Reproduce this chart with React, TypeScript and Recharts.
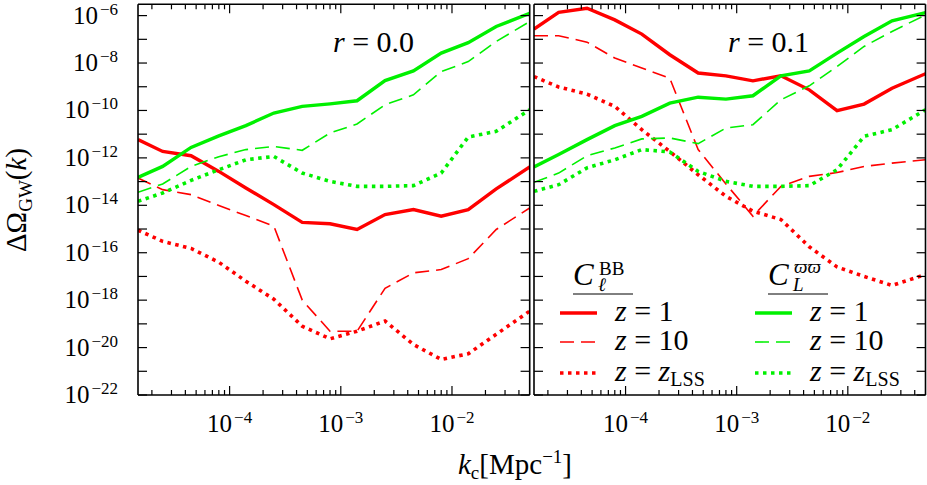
import { LineChart, Line, XAxis, YAxis, ReferenceLine, Legend } from "recharts"

// k_c nodes [Mpc^-1]
const K = [1.5e-5, 2.5e-5, 4.5e-5, 8e-5, 1.4e-4, 2.5e-4, 4.5e-4, 8e-4, 1.4e-3, 2.5e-3, 4.5e-3, 8e-3, 1.4e-2, 2.5e-2, 5e-2]

// log10 of Delta Omega_GW, r = 0.0
const BB_Z1_R0 = [-11.23, -11.73, -11.91, -12.57, -13.27, -13.97, -14.72, -14.78, -15.02, -14.39, -14.18, -14.46, -14.18, -13.31, -12.38]
const BB_Z10_R0 = [-12.85, -13.34, -13.55, -14.01, -14.43, -14.88, -18.0, -19.31, -19.31, -17.5, -16.85, -16.71, -16.25, -15.02, -14.11]
const BB_LSS_R0 = [-15.05, -15.52, -15.82, -16.4, -17.2, -17.96, -19.1, -19.63, -19.31, -18.88, -19.87, -20.5, -20.26, -19.44, -18.46]
const PP_Z1_R0 = [-12.82, -12.36, -11.56, -11.07, -10.64, -10.11, -9.83, -9.72, -9.59, -8.74, -8.33, -7.58, -7.14, -6.46, -5.9]
const PP_Z10_R0 = [-13.45, -13.1, -12.36, -11.95, -11.65, -11.52, -11.68, -10.95, -10.57, -9.76, -9.34, -8.36, -7.94, -7.09, -6.25]
const PP_LSS_R0 = [-13.83, -13.48, -12.95, -12.5, -12.08, -11.94, -12.64, -12.99, -13.2, -13.2, -13.17, -12.64, -11.12, -10.88, -9.97]

// r = 0.1
const BB_Z1_R1 = [-6.57, -5.86, -5.69, -6.18, -6.78, -7.65, -8.42, -8.54, -8.75, -8.54, -9.13, -10.01, -9.73, -9.06, -8.45]
const BB_Z10_R1 = [-6.85, -6.85, -7.12, -7.79, -8.21, -8.64, -11.65, -13.1, -14.46, -13.2, -12.78, -12.62, -12.36, -12.22, -12.08]
const BB_LSS_R1 = [-8.57, -9.01, -9.31, -9.83, -10.81, -11.73, -12.71, -13.62, -14.25, -14.6, -15.75, -16.6, -17.0, -17.38, -16.92]
const PP_Z1_R1 = [-12.38, -11.86, -11.23, -10.64, -10.25, -9.69, -9.44, -9.52, -9.38, -8.54, -8.33, -7.58, -6.88, -6.22, -5.87]
const PP_Z10_R1 = [-13.03, -12.64, -11.91, -11.58, -11.2, -11.16, -11.4, -10.74, -10.6, -9.55, -8.96, -8.15, -7.3, -6.67, -5.97]
const PP_LSS_R1 = [-13.41, -13.13, -12.42, -12.08, -11.65, -11.75, -12.57, -12.99, -13.2, -13.2, -13.17, -12.5, -11.09, -10.81, -9.97]

const X_TICKS = [
  2e-5, 3e-5, 4e-5, 5e-5, 6e-5, 7e-5, 8e-5, 9e-5, 1e-4,
  2e-4, 3e-4, 4e-4, 5e-4, 6e-4, 7e-4, 8e-4, 9e-4, 1e-3,
  2e-3, 3e-3, 4e-3, 5e-3, 6e-3, 7e-3, 8e-3, 9e-3, 1e-2,
  2e-2, 3e-2, 4e-2,
]
const Y_TICKS = [1e-22, 1e-21, 1e-20, 1e-19, 1e-18, 1e-17, 1e-16, 1e-15, 1e-14, 1e-13, 1e-12, 1e-11, 1e-10, 1e-9, 1e-8, 1e-7, 1e-6]

const X_DOMAIN = [1.5e-5, 5e-2]
const Y_DOMAIN = [1e-22, 3e-6]

const RED = "#ff0000"
const GREEN = "#00f000"
const FONT = '"Liberation Serif", "DejaVu Serif", serif'
const TXT = { fontFamily: FONT, fill: "#000" }
const PLOT_W = 391.6
const PLOT_H = 390.7

const STYLES = {
  z1: { strokeWidth: 3.4, dash: undefined },
  z10: { strokeWidth: 1.6, dash: "14 7" },
  lss: { strokeWidth: 3.6, dash: "3.5 4.5" },
}

function buildRows(bb1: number[], bb10: number[], bbL: number[], pp1: number[], pp10: number[], ppL: number[]) {
  return K.map((k, i) => ({
    k,
    bb1: 10 ** bb1[i],
    bb10: 10 ** bb10[i],
    bbL: 10 ** bbL[i],
    pp1: 10 ** pp1[i],
    pp10: 10 ** pp10[i],
    ppL: 10 ** ppL[i],
  }))
}

const dataR0 = buildRows(BB_Z1_R0, BB_Z10_R0, BB_LSS_R0, PP_Z1_R0, PP_Z10_R0, PP_LSS_R0)
const dataR1 = buildRows(BB_Z1_R1, BB_Z10_R1, BB_LSS_R1, PP_Z1_R1, PP_Z10_R1, PP_LSS_R1)

const SERIES = [
  { key: "bb1", color: RED, style: STYLES.z1 },
  { key: "bb10", color: RED, style: STYLES.z10 },
  { key: "bbL", color: RED, style: STYLES.lss },
  { key: "pp1", color: GREEN, style: STYLES.z1 },
  { key: "pp10", color: GREEN, style: STYLES.z10 },
  { key: "ppL", color: GREEN, style: STYLES.lss },
]

function exponentOf(v: number) {
  const l = Math.log10(v)
  const e = Math.round(l)
  return { e, major: Math.abs(l - e) < 1e-6 }
}

function Power({ e }: { e: number }) {
  return (
    <>
      <tspan style={{ fontSize: 25 }}>10</tspan>
      <tspan style={{ fontSize: 17 }} dx={2} dy={-9}>{"\u2212" + Math.abs(e)}</tspan>
    </>
  )
}

function XTick(props: any) {
  const { x, y, payload } = props
  const { e, major } = exponentOf(payload.value)
  const len = major ? 9 : 5
  return (
    <g>
      <line x1={x} y1={y} x2={x} y2={y - len} stroke="#000" strokeWidth={1.2} />
      <line x1={x} y1={y - PLOT_H} x2={x} y2={y - PLOT_H + len} stroke="#000" strokeWidth={1.2} />
      {major && (
        <text x={x} y={y + 37} style={TXT} textAnchor="middle">
          <Power e={e} />
        </text>
      )}
    </g>
  )
}

function YTick(props: any) {
  const { x, y, payload, showLabel } = props
  const { e } = exponentOf(payload.value)
  return (
    <g>
      <line x1={x} y1={y} x2={x + 9} y2={y} stroke="#000" strokeWidth={1.2} />
      <line x1={x + PLOT_W} y1={y} x2={x + PLOT_W - 9} y2={y} stroke="#000" strokeWidth={1.2} />
      {showLabel && e % 2 === 0 && (
        <text x={x - 20} y={y + 8} style={TXT} textAnchor="end">
          <Power e={e} />
        </text>
      )}
    </g>
  )
}

function Frame() {
  return [
    <ReferenceLine key="l" x={X_DOMAIN[0]} stroke="#000" strokeWidth={1.6} />,
    <ReferenceLine key="r" x={X_DOMAIN[1]} stroke="#000" strokeWidth={1.6} />,
    <ReferenceLine key="b" y={Y_DOMAIN[0]} stroke="#000" strokeWidth={1.6} />,
    <ReferenceLine key="t" y={Y_DOMAIN[1]} stroke="#000" strokeWidth={1.6} />,
  ]
}

function seriesLines() {
  return SERIES.map((s) => (
    <Line
      key={s.key}
      type="linear"
      dataKey={s.key}
      stroke={s.color}
      strokeWidth={s.style.strokeWidth}
      strokeDasharray={s.style.dash}
      dot={false}
      activeDot={false}
      isAnimationActive={false}
    />
  ))
}

// legend sits inside the right panel; coordinates relative to right chart (left = 504)
const RX = 504
const LEGEND_ROWS = [
  { label: "1", style: STYLES.z1, y: 313 },
  { label: "10", style: STYLES.z10, y: 342 },
  { label: "LSS", style: STYLES.lss, y: 373 },
]

function LegendColumn({ x0, color, header }: { x0: number; color: string; header: "bb" | "pp" }) {
  const sx = x0 - RX
  return (
    <g>
      <text x={sx + 13} y={285} style={{ ...TXT, fontSize: 31, fontStyle: "italic" }}>C</text>
      {header === "bb" ? (
        <>
          <text x={sx + 39} y={275} style={{ ...TXT, fontSize: 19 }}>BB</text>
          <text x={sx + 38} y={291} style={{ ...TXT, fontSize: 19, fontStyle: "italic" }}>ℓ</text>
        </>
      ) : (
        <>
          <text x={sx + 39} y={273} style={{ ...TXT, fontSize: 19, fontStyle: "italic" }}>ϖϖ</text>
          <text x={sx + 38} y={291} style={{ ...TXT, fontSize: 19, fontStyle: "italic" }}>L</text>
        </>
      )}
      <line x1={sx + 13} y1={294} x2={sx + 13 + 60} y2={294} stroke="#000" strokeWidth={1} />
      {LEGEND_ROWS.map((r) => (
        <g key={r.label}>
          <line
            x1={sx}
            y1={r.y}
            x2={sx + 37}
            y2={r.y}
            stroke={color}
            strokeWidth={r.style.strokeWidth}
            strokeDasharray={r.style.dash}
          />
          <text x={sx + 55} y={r.y + 8} style={{ ...TXT, fontSize: 30 }}>
            <tspan style={{ fontStyle: "italic" }}>z</tspan>
            {" = "}
            {r.label === "LSS" ? (
              <>
                <tspan style={{ fontStyle: "italic" }}>z</tspan>
                <tspan style={{ fontSize: 20 }} dy={5}>LSS</tspan>
              </>
            ) : (
              r.label
            )}
          </text>
        </g>
      ))}
    </g>
  )
}

function LegendBox() {
  return (
    <svg width={423} height={485} style={{ position: "absolute", left: 0, top: 0 }}>
      <LegendColumn x0={560} color={RED} header="bb" />
      <LegendColumn x0={755} color={GREEN} header="pp" />
    </svg>
  )
}

export default function App() {
  return (
    <div style={{ position: "absolute", left: 0, top: 0, width: 927, height: 485, background: "#fff", fontFamily: FONT }}>
      <div style={{ position: "absolute", left: 0, top: 0 }}>
        <LineChart width={927} height={485} data={dataR0} margin={{ top: 4.3, right: 397.3, bottom: 60, left: 0 }}>
          <XAxis
            dataKey="k"
            type="number"
            scale="log"
            domain={X_DOMAIN}
            allowDataOverflow
            ticks={X_TICKS}
            interval={0}
            height={30}
            tickSize={0}
            tickMargin={0}
            tickLine={false}
            axisLine={false}
            tick={(p: any) => <XTick {...p} />}
          />
          <YAxis
            type="number"
            scale="log"
            domain={Y_DOMAIN}
            allowDataOverflow
            ticks={Y_TICKS}
            interval={0}
            width={138}
            tickSize={0}
            tickMargin={0}
            tickLine={false}
            axisLine={false}
            tick={(p: any) => <YTick {...p} showLabel />}
          />
          {seriesLines()}
          {Frame()}
          <text x={333} y={52} style={{ ...TXT, fontSize: 30 }}>
            <tspan style={{ fontStyle: "italic" }}>r</tspan> = 0.0
          </text>
          <text transform="translate(26,200) rotate(-90)" textAnchor="middle" style={{ ...TXT, fontSize: 29 }}>
            ΔΩ<tspan style={{ fontSize: 19 }} dy={6}>GW</tspan>
            <tspan dy={-6}>(</tspan>
            <tspan style={{ fontStyle: "italic" }}>k</tspan>)
          </text>
          <text x={515} y={474} textAnchor="middle" style={{ ...TXT, fontSize: 29 }}>
            <tspan style={{ fontStyle: "italic" }}>k</tspan>
            <tspan style={{ fontSize: 19 }} dy={5}>c</tspan>
            <tspan dy={-5}>[Mpc</tspan>
            <tspan style={{ fontSize: 19 }} dy={-11}>{"\u22121"}</tspan>
            <tspan dy={11}>]</tspan>
          </text>
        </LineChart>
      </div>
      <div style={{ position: "absolute", left: RX, top: 0 }}>
        <LineChart width={423} height={485} data={dataR1} margin={{ top: 4.3, right: 1.5, bottom: 60, left: 0 }}>
          <XAxis
            dataKey="k"
            type="number"
            scale="log"
            domain={X_DOMAIN}
            allowDataOverflow
            ticks={X_TICKS}
            interval={0}
            height={30}
            tickSize={0}
            tickMargin={0}
            tickLine={false}
            axisLine={false}
            tick={(p: any) => <XTick {...p} />}
          />
          <YAxis
            type="number"
            scale="log"
            domain={Y_DOMAIN}
            allowDataOverflow
            ticks={Y_TICKS}
            interval={0}
            width={30}
            tickSize={0}
            tickMargin={0}
            tickLine={false}
            axisLine={false}
            tick={(p: any) => <YTick {...p} />}
          />
          {seriesLines()}
          {Frame()}
          <text x={728 - RX} y={52} style={{ ...TXT, fontSize: 30 }}>
            <tspan style={{ fontStyle: "italic" }}>r</tspan> = 0.1
          </text>
          <Legend
            layout="horizontal"
            verticalAlign="middle"
            align="center"
            content={() => <LegendBox />}
            wrapperStyle={{ left: 0, top: 0, width: 423, height: 485, pointerEvents: "none" }}
          />
        </LineChart>
      </div>
    </div>
  )
}
